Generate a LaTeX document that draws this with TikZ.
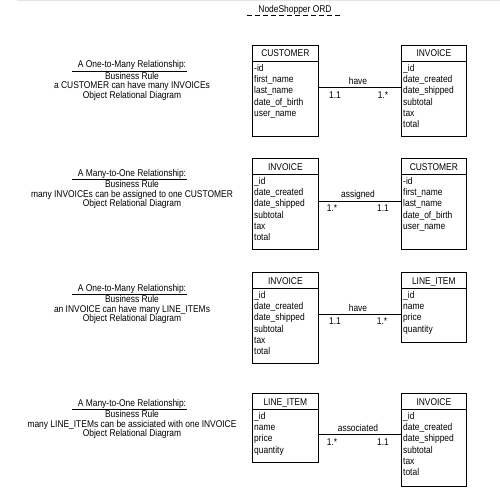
\documentclass[tikz,border=0pt]{standalone}
\usepackage{fontspec}
\setmainfont{Liberation Sans}[FakeStretch=0.86]
\newcommand{\umlclass}[7]{%
  \node[cls, minimum width=#4, minimum height=#5] (#1) at (#2,#3) {};
  \draw[ln] ([yshift=-16pt]#1.north west) -- ([yshift=-16pt]#1.north east);
  \node[txt] (#1-h) at ([yshift=-8.5pt]#1.north) {#6};
  \foreach \r [count=\i from 0] in {#7} {
    \node[attr] (#1-\i) at ([xshift=2pt,yshift={-23pt-11.2pt*\i}]#1.north west) {\r};
  }
}
\newcommand{\rulebox}[4]{% name, T, title, rule
  \node[txt] (#1-t) at (132,#2-0.5) {#3};
  \draw[ln] (72,#2+6) -- (187,#2+6);
  \node[txt] (#1-b) at (132,#2+11) {Business Rule};
  \node[txt] (#1-r) at (132,#2+20.5) {#4};
  \node[txt] (#1-o) at (132,#2+30) {Object Relational Diagram};
}
\begin{document}
\begin{tikzpicture}[x=1pt,y=-1pt,
  ln/.style={line width=0.65pt},
  cls/.style={draw, ln, anchor=north west, inner sep=0pt},
  txt/.style={font=\fontsize{9.8}{10}\selectfont, inner sep=0pt, text height=8pt, text depth=1pt},
  attr/.style={txt, anchor=west}]
\useasboundingbox (0,0) rectangle (500,500);
\draw[gray!20] (17,0.5) -- (500,0.5);
% title
\node[txt] (title) at (295,9) {NodeShopper ORD};
\draw[ln, dash pattern=on 5pt off 3pt] (247,15) -- (341,15);

% block 1
\rulebox{b1}{65}{A One-to-Many Relationship:}{a CUSTOMER can have many INVOICEs}
\umlclass{c1}{252}{45}{66pt}{91pt}{CUSTOMER}{-id,first\_name,last\_name,date\_of\_birth,user\_name}
\umlclass{i1}{401}{45}{65pt}{91pt}{INVOICE}{\_id,date\_created,date\_shipped,subtotal,tax,total}
\draw[ln] (c1.east |- 0,87) -- (i1.west |- 0,87);
\node[txt] (l1) at (358,81) {have};
\node[txt] (m1a) at (335,95) {1.1};
\node[txt] (m1b) at (383,95) {1.*};

% block 2
\rulebox{b2}{173}{A Many-to-One Relationship:}{many INVOICEs can be assigned to one CUSTOMER}
\umlclass{i2}{252}{158}{66pt}{91pt}{INVOICE}{\_id,date\_created,date\_shipped,subtotal,tax,total}
\umlclass{c2}{401}{158}{65pt}{91pt}{CUSTOMER}{-id,first\_name,last\_name,date\_of\_birth,user\_name}
\draw[ln] (i2.east |- 0,201) -- (c2.west |- 0,201);
\node[txt] (l2) at (358,194) {assigned};
\node[txt] (m2a) at (332,208) {1.*};
\node[txt] (m2b) at (383,208) {1.1};

% block 3
\rulebox{b3}{288}{A One-to-Many Relationship:}{an INVOICE can have many LINE\_ITEMs}
\umlclass{i3}{252}{272}{66pt}{91pt}{INVOICE}{\_id,date\_created,date\_shipped,subtotal,tax,total}
\umlclass{li3}{401}{272}{65pt}{70pt}{LINE\_ITEM}{\_id,name,price,quantity}
\draw[ln] (i3.east |- 0,314) -- (li3.west |- 0,314);
\node[txt] (l3) at (358,308) {have};
\node[txt] (m3a) at (335,321) {1.1};
\node[txt] (m3b) at (382,321) {1.*};

% block 4
\rulebox{b4}{403}{A Many-to-One Relationship:}{many LINE\_ITEMs can be assiciated with one INVOICE}
\umlclass{li4}{252}{393}{66pt}{69pt}{LINE\_ITEM}{\_id,name,price,quantity}
\umlclass{i4}{401}{393}{65pt}{93pt}{INVOICE}{\_id,date\_created,date\_shipped,subtotal,tax,total}
\draw[ln] (li4.east |- 0,434) -- (i4.west |- 0,434);
\node[txt] (l4) at (358,428) {associated};
\node[txt] (m4a) at (332,442) {1.*};
\node[txt] (m4b) at (383,442) {1.1};
\end{tikzpicture}
\end{document}
